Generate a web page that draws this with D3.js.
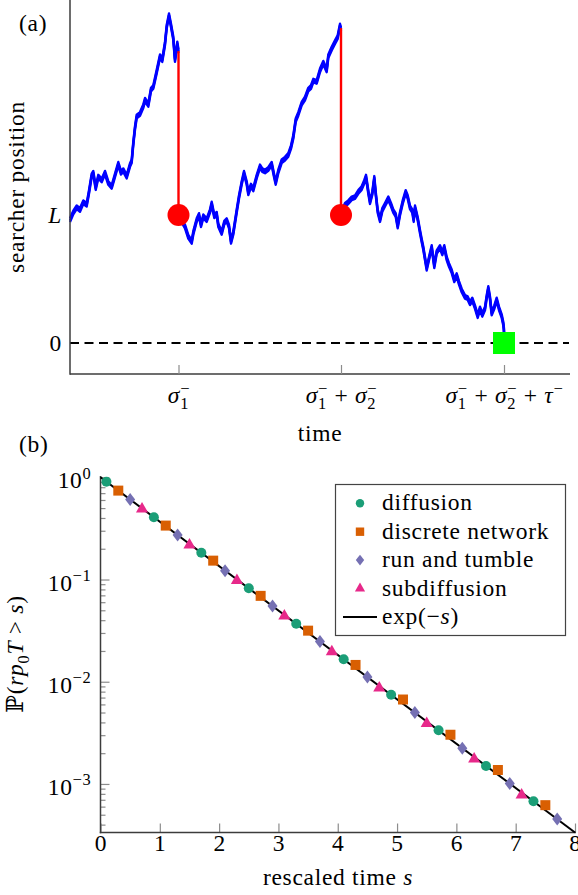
<!DOCTYPE html>
<html lang="en">
<meta charset="utf-8">
<title>Search with resetting</title>
<head>
<style>
  body { margin: 0; background: #fff; }
  svg text { font-family: "Liberation Serif", "DejaVu Serif", serif; fill: #000; letter-spacing: 0.7px; }
</style>
</head>
<body>
<script src="https://d3js.org/d3.v7.min.js"></script>
<div id="chart"></div>
<script>

// ---------- (a) one trajectory, time t vs position (units of L) ----------
var run1 = [[0,0.96],[0.66,1.02],[1.34,1.06],[2.0,1.04],[2.66,1.10],[3.34,1.08],[3.8,1.18],[4.34,1.31],
  [4.66,1.33],[5.14,1.21],[5.66,1.30],[6.34,1.27],[7.0,1.33],[7.66,1.25],[8.34,1.22],[9.0,1.31],
  [9.66,1.40],[10.2,1.33],[10.66,1.35],[11.34,1.30],[12.0,1.39],[12.34,1.42],[12.66,1.56],[13.0,1.68],
  [13.34,1.77],[14.0,1.79],[14.66,1.85],[15.0,1.90],[15.66,1.86],[16.2,1.98],[16.66,2.00],[17.34,2.12],
  [18.0,2.24],[18.46,2.21],[19.0,2.34],[19.34,2.47],[19.8,2.56],[20.2,2.48],[20.66,2.38],[21.0,2.21],
  [21.46,2.34],[21.7,2.28]];
var run2 = [[21.7,1.00],[23.0,0.91],[23.66,0.83],[24.34,0.79],[24.66,0.86],[25.34,0.96],[25.8,1.00],
  [26.2,0.92],[26.66,0.99],[27.34,0.96],[28.0,1.03],[28.34,1.09],[28.86,0.99],[29.34,1.01],[29.66,0.92],
  [30.34,0.86],[30.86,0.94],[31.34,0.96],[31.8,0.91],[32.2,0.79],[32.66,0.86],[33.34,1.03],[33.8,1.14],
  [34.34,1.25],[34.8,1.33],[35.34,1.25],[35.66,1.17],[36.2,1.23],[36.66,1.20],[37.34,1.30],[38.0,1.38],
  [38.46,1.35],[39.0,1.34],[39.66,1.36],[40.34,1.40],[40.8,1.31],[41.14,1.25],[41.66,1.34],[42.34,1.42],
  [43.0,1.44],[43.66,1.47],[44.2,1.53],[44.66,1.61],[45.14,1.74],[45.66,1.79],[46.34,1.87],[47.0,1.91],
  [47.66,1.98],[48.2,2.00],[48.66,2.05],[49.34,2.04],[50.0,2.13],[50.66,2.19],[51.34,2.13],[51.66,2.24],
  [52.34,2.30],[53.0,2.35],[53.54,2.39],[54.0,2.48],[54.2,2.45]];
var run3 = [[54.2,1.00],[55.0,1.08],[55.66,1.10],[56.34,1.13],[57.0,1.14],[57.66,1.18],[58.34,1.21],
  [58.86,1.26],[59.2,1.30],[59.66,1.18],[60.0,1.10],[60.46,1.17],[60.86,1.29],[61.14,1.17],[61.54,1.03],
  [62.0,0.96],[62.46,1.04],[63.0,1.08],[63.66,1.13],[64.2,1.08],[64.66,1.03],[65.14,1.00],[65.54,0.91],
  [66.0,1.01],[66.54,1.10],[67.14,1.18],[67.54,1.14],[68.0,1.06],[68.46,1.03],[68.74,0.96],[69.0,1.06],
  [69.54,0.97],[70.0,0.87],[70.34,0.80],[70.66,0.74],[71.0,0.66],[71.34,0.58],[71.8,0.66],[72.34,0.75],
  [72.86,0.60],[73.34,0.71],[74.0,0.75],[74.46,0.70],[74.86,0.75],[75.34,0.66],[75.8,0.61],[76.34,0.56],
  [76.86,0.49],[77.34,0.53],[77.8,0.47],[78.34,0.41],[79.0,0.36],[79.54,0.35],[80.0,0.31],[80.46,0.34],
  [81.0,0.28],[81.54,0.21],[82.0,0.27],[82.46,0.22],[83.0,0.27],[83.34,0.36],[83.66,0.43],[84.0,0.35],
  [84.34,0.23],[84.86,0.28],[85.34,0.34],[85.8,0.27],[86.34,0.21],[86.66,0.15],[86.8,0.10],[86.8,0.0]];

var resetTimes = [21.7, 54.2];
var resetFrom  = [2.28, 2.46];
var resetTo    = 1;        // back to L
var hitTime    = 86.8;     // reaches target at 0
var timeTickLabels = [
  [{t: "σ", i: 1, sub: "1", sup: "−"}],
  [{t: "σ", i: 1, sub: "1", sup: "−"}, {t: " + "}, {t: "σ", i: 1, sub: "2", sup: "−"}],
  [{t: "σ", i: 1, sub: "1", sup: "−"}, {t: " + "}, {t: "σ", i: 1, sub: "2", sup: "−"}, {t: " + "}, {t: "τ", i: 1, sup: "−"}]
];

// ---------- (b) survival probability vs rescaled time ----------
var diffusionS = [0.1, 0.9, 1.7, 2.5, 3.3, 4.1, 4.9, 5.7, 6.5, 7.3];
var diffusionP = [0.905, 0.407, 0.183, 0.0821, 0.0369, 0.0166, 0.00745, 0.00335, 0.00150, 0.000676];
var networkS   = [0.3, 1.1, 1.9, 2.7, 3.5, 4.3, 5.1, 5.9, 6.7, 7.5];
var networkP   = [0.741, 0.337, 0.153, 0.0692, 0.0316, 0.0146, 0.00670, 0.00303, 0.00137, 0.000620];
var tumbleS    = [0.5, 1.3, 2.1, 2.9, 3.7, 4.5, 5.3, 6.1, 6.9, 7.7];
var tumbleP    = [0.607, 0.273, 0.122, 0.0550, 0.0247, 0.0111, 0.00499, 0.00224, 0.00101, 0.000453];
var subdiffS   = [0.7, 1.5, 2.3, 3.1, 3.9, 4.7, 5.5, 6.3, 7.1];
var subdiffP   = [0.49, 0.218, 0.098, 0.044, 0.0196, 0.0087, 0.0039, 0.00175, 0.00078];
var expLine    = [[0, 1], [8, 0.000335]];   // exp(-s), straight on log axis
var sTicks     = [0, 1, 2, 3, 4, 5, 6, 7, 8];
var pTicks     = [1, 0.1, 0.01, 0.001];
var pTickExp   = ["0", "−1", "−2", "−3"];
var pMinor     = [0.0004, 0.0005, 0.0006, 0.0007, 0.0008, 0.0009, 0.002, 0.003, 0.004, 0.005, 0.006, 0.007, 0.008, 0.009,
                  0.02, 0.03, 0.04, 0.05, 0.06, 0.07, 0.08, 0.09, 0.2, 0.3, 0.4, 0.5, 0.6, 0.7, 0.8, 0.9];
var legendNames = ["diffusion", "discrete network", "run and tumble", "subdiffusion"];
var legendColors = ["#1b9e77", "#d95f02", "#7570b3", "#e7298a"];
var legendShapes = ["circle", "square", "diamond", "triangle"];

var W = 578, H = 895, FS = 23.5;
var axisCol = "#3c3c3c", tickCol = "#8c8c8c";

var svg = d3.select("#chart").append("svg")
  .attr("width", W).attr("height", H)
  .style("display", "block");

// writes a little bit of math: italics, stacked sub/superscripts
function mathText(text, parts, size) {
  var shift = 0;
  parts.forEach(function (p) {
    var ts = text.append("tspan").attr("dy", -shift).text(p.t);
    shift = 0;
    if (p.i) ts.style("font-style", "italic");
    var subW = 0;
    if (p.sub) {
      var sb = text.append("tspan").attr("font-size", size * 0.7).attr("dy", size * 0.24).text(p.sub);
      subW = sb.node().getComputedTextLength();
      shift = size * 0.24;
    }
    if (p.sup) {
      var up = -size * 0.4;
      text.append("tspan").attr("font-size", size * 0.7)
        .attr("dx", p.sub ? -subW : 0)
        .attr("dy", up - shift).text(p.sup);
      shift = up;
    }
  });
}

function shapePath(kind, r) {
  if (kind === "circle") return d3.symbol(d3.symbolCircle, Math.PI * r * r)();
  if (kind === "square") return "M" + (-r) + "," + (-r) + "h" + 2 * r + "v" + 2 * r + "h" + (-2 * r) + "Z";
  if (kind === "diamond") return "M0," + (-1.3 * r) + "L" + r + ",0L0," + 1.3 * r + "L" + (-r) + ",0Z";
  return "M0," + (-1.4 * r) + "L" + 1.21 * r + "," + 0.7 * r + "L" + (-1.21 * r) + "," + 0.7 * r + "Z";
}

// ================= panel (a) =================
var xA = d3.scaleLinear().domain([0, 100]).range([70, 570]);
var yA = d3.scaleLinear().domain([0, 1]).range([343, 215]);
var gA = svg.append("g");

// target line at 0
gA.append("line")
  .attr("x1", xA(0)).attr("x2", xA(99.8)).attr("y1", yA(0)).attr("y2", yA(0))
  .attr("stroke", "#000").attr("stroke-width", 2).attr("stroke-dasharray", "9,5.5");

// the path is drawn as a thin vertical band, like the noisy original
var lineA = d3.line().x(d => xA(d[0])).y(d => yA(d[1]));
[run1, run2, run3].forEach(function (seg) {
  [-1.8, 0, 1.8].forEach(function (off) {
    gA.append("path").datum(seg)
      .attr("d", lineA)
      .attr("transform", "translate(0," + off + ")")
      .attr("fill", "none").attr("stroke", "#0000ff")
      .attr("stroke-width", 2.4).attr("stroke-linejoin", "round");
  });
});

// resets
resetTimes.forEach(function (t, i) {
  gA.append("line")
    .attr("x1", xA(t)).attr("x2", xA(t)).attr("y1", yA(resetFrom[i])).attr("y2", yA(resetTo))
    .attr("stroke", "#ff0000").attr("stroke-width", 2.4);
  gA.append("circle").attr("cx", xA(t)).attr("cy", yA(resetTo)).attr("r", 11).attr("fill", "#ff0000");
});
gA.append("rect")
  .attr("x", xA(hitTime) - 11).attr("y", yA(0) - 11).attr("width", 22).attr("height", 22)
  .attr("fill", "#00ff00");

// axes
var axA = gA.append("g").attr("transform", "translate(0," + 374 + ")")
  .call(d3.axisBottom(xA).tickValues(resetTimes.concat([hitTime])).tickSizeInner(-9).tickSizeOuter(0));
axA.select(".domain").attr("d", "M70,0H570").attr("stroke", axisCol).attr("stroke-width", 1.5);
axA.selectAll(".tick line").attr("stroke", tickCol).attr("stroke-width", 1.2);
axA.selectAll(".tick text").each(function (d, i) {
  var t = d3.select(this).text(null).attr("y", 29).attr("dy", null)
    .attr("font-size", FS).attr("font-family", null);
  mathText(t, timeTickLabels[i], FS);
});
gA.append("line").attr("x1", 70).attr("x2", 70).attr("y1", 0).attr("y2", 374.7)
  .attr("stroke", axisCol).attr("stroke-width", 1.5);

gA.append("text").attr("x", 62).attr("y", yA(1) + 8).attr("text-anchor", "end")
  .attr("font-size", FS).style("font-style", "italic").text("L");
gA.append("text").attr("x", 62).attr("y", yA(0) + 8).attr("text-anchor", "end")
  .attr("font-size", FS).text("0");
gA.append("text").attr("x", 320).attr("y", 441).attr("text-anchor", "middle")
  .attr("font-size", FS).text("time");
gA.append("text").attr("transform", "translate(24,187) rotate(-90)").attr("text-anchor", "middle")
  .attr("font-size", FS).text("searcher position");
gA.append("text").attr("x", 19).attr("y", 31).attr("font-size", FS).text("(a)");

// ================= panel (b) =================
var xB = d3.scaleLinear().domain([0, 8]).range([100.5, 575]);
var yB = d3.scaleLog().domain([0.000335, 1]).range([832.5, 477.3]);
var gB = svg.append("g");

var axBy = gB.append("g").attr("transform", "translate(100.5,0)")
  .call(d3.axisLeft(yB).tickValues(pTicks).tickSizeInner(-9).tickSizeOuter(0).tickPadding(9));
axBy.select(".domain").remove();
axBy.selectAll(".tick line").attr("stroke", tickCol).attr("stroke-width", 1.2);
axBy.selectAll(".tick text").each(function (d, i) {
  var t = d3.select(this).text(null).attr("dy", "0.45em").attr("font-size", FS).attr("font-family", null);
  t.append("tspan").text("10");
  t.append("tspan").attr("font-size", FS * 0.7).attr("dy", -FS * 0.42).text(pTickExp[i]);
});
var axByMinor = gB.append("g").attr("transform", "translate(100.5,0)")
  .call(d3.axisLeft(yB).tickValues(pMinor).tickSizeInner(-5).tickSizeOuter(0).tickFormat(""));
axByMinor.select(".domain").remove();
axByMinor.selectAll(".tick line").attr("stroke", tickCol).attr("stroke-width", 1.2);

var axBx = gB.append("g").attr("transform", "translate(0,832.5)")
  .call(d3.axisBottom(xB).tickValues(sTicks).tickSizeInner(-9).tickSizeOuter(0));
axBx.select(".domain").remove();
axBx.selectAll(".tick line").attr("stroke", tickCol).attr("stroke-width", 1.2);
axBx.selectAll(".tick text").attr("y", 18).attr("dy", null).attr("font-size", FS).attr("font-family", null);

gB.append("line").attr("x1", 100.5).attr("x2", 100.5).attr("y1", 476).attr("y2", 833.2)
  .attr("stroke", axisCol).attr("stroke-width", 1.5);
gB.append("line").attr("x1", 99.8).attr("x2", 576).attr("y1", 832.5).attr("y2", 832.5)
  .attr("stroke", axisCol).attr("stroke-width", 1.5);

// exp(-s)
gB.append("path").datum(expLine)
  .attr("d", d3.line().x(d => xB(d[0])).y(d => yB(d[1])))
  .attr("fill", "none").attr("stroke", "#000").attr("stroke-width", 2);

var seriesS = [diffusionS, networkS, tumbleS, subdiffS];
var seriesP = [diffusionP, networkP, tumbleP, subdiffP];
seriesS.forEach(function (ss, k) {
  gB.append("g").selectAll("path").data(ss).join("path")
    .attr("transform", (d, j) => "translate(" + xB(d) + "," + yB(seriesP[k][j]) + ")")
    .attr("d", shapePath(legendShapes[k], 5))
    .attr("fill", legendColors[k]);
});

// legend
var lg = gB.append("g");
lg.append("rect").attr("x", 335.5).attr("y", 484.5).attr("width", 230).attr("height", 151)
  .attr("fill", "#fff").attr("stroke", "#444").attr("stroke-width", 1.2);
legendNames.forEach(function (name, k) {
  var yy = 503.3 + k * 28.4;
  lg.append("path").attr("transform", "translate(360," + yy + ")")
    .attr("d", shapePath(legendShapes[k], 4.2)).attr("fill", legendColors[k]);
  lg.append("text").attr("x", 382).attr("y", yy + 7).attr("font-size", FS).text(name);
});
var yExp = 503.3 + 4 * 28.4;
lg.append("line").attr("x1", 343).attr("x2", 377).attr("y1", yExp).attr("y2", yExp)
  .attr("stroke", "#000").attr("stroke-width", 2);
mathText(lg.append("text").attr("x", 382).attr("y", yExp + 7).attr("font-size", FS),
  [{t: "exp(−"}, {t: "s", i: 1}, {t: ")"}], FS);

gB.append("text").attr("x", 338).attr("y", 885).attr("text-anchor", "middle").attr("font-size", FS)
  .call(t => mathText(t, [{t: "rescaled time "}, {t: "s", i: 1}], FS));
gB.append("text").attr("transform", "translate(23,654) rotate(-90)").attr("text-anchor", "middle")
  .attr("font-size", FS)
  .call(t => mathText(t, [{t: "ℙ("}, {t: "r", i: 1}, {t: "p", i: 1, sub: "0"}, {t: "T", i: 1},
    {t: " > "}, {t: "s", i: 1}, {t: ")"}], FS));
gB.append("text").attr("x", 19).attr("y", 452).attr("font-size", FS).text("(b)");

</script>
</body>
</html>
